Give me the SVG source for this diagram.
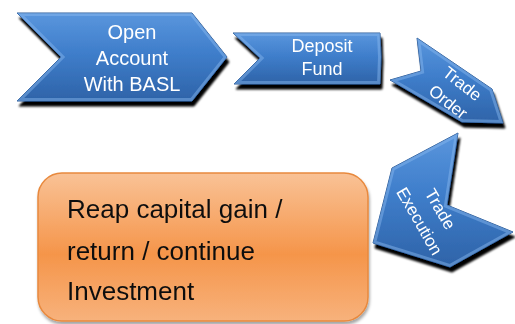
<svg xmlns="http://www.w3.org/2000/svg" width="515" height="324" viewBox="0 0 515 324">
<defs>
<linearGradient id="blue" x1="0" y1="0" x2="0" y2="1">
<stop offset="0" stop-color="#5A96DD"/>
<stop offset="0.45" stop-color="#3F7ECB"/>
<stop offset="1" stop-color="#2E63A8"/>
</linearGradient>
<linearGradient id="orange" x1="0" y1="0" x2="0" y2="1">
<stop offset="0" stop-color="#F9C296"/>
<stop offset="0.55" stop-color="#F5954A"/>
<stop offset="1" stop-color="#F7B27C"/>
</linearGradient>
<filter id="sh" x="-20%" y="-20%" width="140%" height="150%">
<feGaussianBlur in="SourceAlpha" stdDeviation="0.8"/>
<feOffset dx="2" dy="5" result="b"/>
<feFlood flood-color="#000"/>
<feComposite in2="b" operator="in"/>
<feMerge><feMergeNode/><feMergeNode in="SourceGraphic"/></feMerge>
</filter>
<filter id="sh2" x="-10%" y="-10%" width="120%" height="130%">
<feGaussianBlur in="SourceAlpha" stdDeviation="1.5"/>
<feOffset dx="1" dy="3" result="b"/>
<feFlood flood-color="#000" flood-opacity="0.35"/>
<feComposite in2="b" operator="in"/>
<feMerge><feMergeNode/><feMergeNode in="SourceGraphic"/></feMerge>
</filter>
<polygon id="p1" points="17,13 192,13 227,57 192,101 17,101 61,57"/>
<polygon id="p2" points="233,33 380,33 381,57 380,84 234,84 260,58"/>
<polygon id="p3" points="417,38 492,89 503,123 462,122 390,80 421,71"/>
<polygon id="p4" points="458,133 447,205 513,232 450,267 373,243 392,168"/>
<clipPath id="c1"><use href="#p1"/></clipPath>
<clipPath id="c2"><use href="#p2"/></clipPath>
<clipPath id="c3"><use href="#p3"/></clipPath>
<clipPath id="c4"><use href="#p4"/></clipPath>
</defs>
<style>
.chev{fill:url(#blue);stroke:#2A5A98;stroke-width:1;stroke-linejoin:round}
.bev{fill:none;stroke:#8CBAF0;stroke-opacity:0.45;stroke-width:6;stroke-linejoin:miter}
.wt{fill:#fff;font-family:"Liberation Sans",Arial,sans-serif;text-anchor:middle}
.bt{fill:#111;font-family:"Liberation Sans",Arial,sans-serif;font-size:26px}
</style>
<rect width="515" height="324" fill="#fff"/>
<g id="connectors"></g>
<g id="open-account" filter="url(#sh)">
<use href="#p1" class="chev"/>
<use href="#p1" class="bev" clip-path="url(#c1)"/>
<text class="wt" font-size="20" x="132" y="39">Open</text>
<text class="wt" font-size="20" x="132" y="65">Account</text>
<text class="wt" font-size="20" x="132" y="91">With BASL</text>
</g>
<g id="deposit-fund" filter="url(#sh)">
<use href="#p2" class="chev"/>
<use href="#p2" class="bev" clip-path="url(#c2)"/>
<text class="wt" font-size="18" x="322" y="52">Deposit</text>
<text class="wt" font-size="18" x="322" y="75">Fund</text>
</g>
<g id="trade-order" filter="url(#sh)">
<use href="#p3" class="chev"/>
<use href="#p3" class="bev" clip-path="url(#c3)"/>
<g transform="translate(455,93) rotate(38)">
<text class="wt" font-size="17" x="0" y="-6">Trade</text>
<text class="wt" font-size="17" x="0" y="17">Order</text>
</g>
</g>
<g id="trade-execution" filter="url(#sh)">
<use href="#p4" class="chev"/>
<use href="#p4" class="bev" clip-path="url(#c4)"/>
<g transform="translate(430,215) rotate(60)">
<text class="wt" font-size="17" x="0" y="-6">Trade</text>
<text class="wt" font-size="17" x="0" y="18">Execution</text>
</g>
</g>
<g id="reap" filter="url(#sh2)">
<rect x="38" y="173" width="330" height="148" rx="24" fill="url(#orange)" stroke="#E8893E" stroke-width="1.5"/>
<text class="bt" x="67" y="218">Reap capital gain /</text>
<text class="bt" x="67" y="260">return / continue</text>
<text class="bt" x="67" y="300">Investment</text>
</g>
</svg>
